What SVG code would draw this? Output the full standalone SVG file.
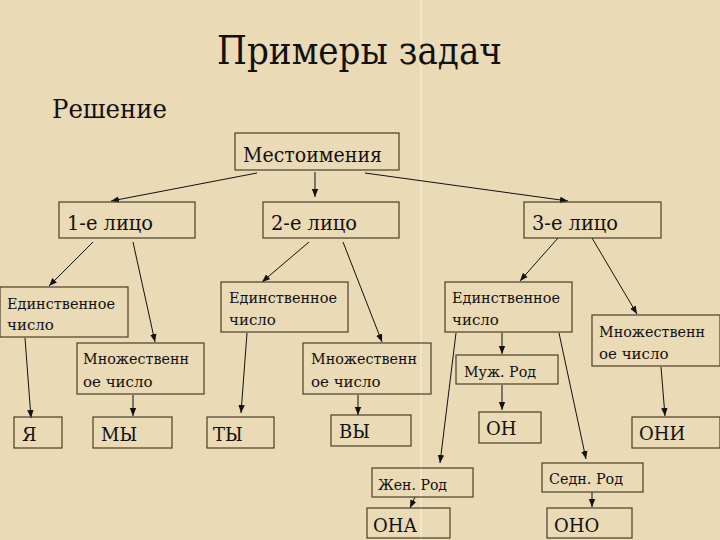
<svg xmlns="http://www.w3.org/2000/svg" width="720" height="540" viewBox="0 0 720 540">
<style>
.box{fill:none;stroke:#4a3e28;stroke-width:1.2}
text{font-family:'DejaVu Serif','Liberation Serif',serif;fill:#111}
.big{font-size:20px}
.mid{font-size:15px}
.pr{font-size:18px}
.c line{stroke:#111;stroke-width:1}
</style>
<defs>
<marker id="ah" viewBox="0 0 10 10" refX="10" refY="5" markerWidth="8" markerHeight="8" markerUnits="userSpaceOnUse" orient="auto">
<path d="M0,1 L10,5 L0,9 Z" fill="#111"/>
</marker>
</defs>
<rect width="720" height="540" fill="#eadab5"/>
<line x1="421" y1="0" x2="421" y2="540" stroke="#f6eedc" stroke-width="1.2"/>
<text x="217" y="64" font-size="40" textLength="285" lengthAdjust="spacingAndGlyphs">Примеры задач</text>
<text x="52" y="118" font-size="26" textLength="115" lengthAdjust="spacingAndGlyphs">Решение</text>

<g class="c" marker-end="url(#ah)">
<line x1="257" y1="173" x2="111" y2="201"/>
<line x1="315" y1="172" x2="315" y2="197"/>
<line x1="365" y1="173" x2="568" y2="201"/>
<line x1="93" y1="242" x2="49" y2="286"/>
<line x1="133" y1="242" x2="155" y2="342"/>
<line x1="309" y1="242" x2="262" y2="282"/>
<line x1="343" y1="242" x2="382" y2="342"/>
<line x1="558" y1="238" x2="520" y2="281"/>
<line x1="592" y1="238" x2="637" y2="314"/>
<line x1="25" y1="338" x2="31" y2="418"/>
<line x1="133" y1="395" x2="133" y2="416"/>
<line x1="247" y1="333" x2="241" y2="413"/>
<line x1="358" y1="395" x2="358" y2="415"/>
<line x1="502" y1="333" x2="502" y2="354"/>
<line x1="502" y1="385" x2="502" y2="410"/>
<line x1="456" y1="333" x2="440" y2="463"/>
<line x1="559" y1="333" x2="586" y2="459"/>
<line x1="661" y1="367" x2="665" y2="416"/>
<line x1="415" y1="497" x2="410" y2="508"/>
<line x1="592" y1="492" x2="592" y2="507"/>
</g>

<g id="n-mest"><rect class="box" x="235" y="133" width="164" height="37"/><text class="big" x="243" y="162" textLength="139" lengthAdjust="spacingAndGlyphs">Местоимения</text></g>
<g id="n-1"><rect class="box" x="59" y="202" width="136" height="36"/><text class="big" x="67" y="230" textLength="86" lengthAdjust="spacingAndGlyphs">1-е лицо</text></g>
<g id="n-2"><rect class="box" x="263" y="202" width="136" height="36"/><text class="big" x="271" y="230" textLength="86" lengthAdjust="spacingAndGlyphs">2-е лицо</text></g>
<g id="n-3"><rect class="box" x="524" y="202" width="137" height="36"/><text class="big" x="532" y="230" textLength="86" lengthAdjust="spacingAndGlyphs">3-е лицо</text></g>

<g id="n-ed1"><rect class="box" x="0" y="287" width="128" height="50"/><text class="mid" x="7" y="309" textLength="108" lengthAdjust="spacingAndGlyphs">Единственное</text><text class="mid" x="7" y="330">число</text></g>
<g id="n-mn1"><rect class="box" x="77" y="343" width="127" height="51"/><text class="mid" x="83" y="364" textLength="106" lengthAdjust="spacingAndGlyphs">Множественн</text><text class="mid" x="83" y="387">ое число</text></g>
<g id="n-ed2"><rect class="box" x="221" y="282" width="127" height="50"/><text class="mid" x="229" y="303" textLength="108" lengthAdjust="spacingAndGlyphs">Единственное</text><text class="mid" x="229" y="325">число</text></g>
<g id="n-mn2"><rect class="box" x="303" y="343" width="128" height="51"/><text class="mid" x="311" y="364" textLength="106" lengthAdjust="spacingAndGlyphs">Множественн</text><text class="mid" x="311" y="387">ое число</text></g>
<g id="n-ed3"><rect class="box" x="445" y="282" width="127" height="50"/><text class="mid" x="452" y="303" textLength="108" lengthAdjust="spacingAndGlyphs">Единственное</text><text class="mid" x="452" y="325">число</text></g>
<g id="n-mn3"><rect class="box" x="592" y="315" width="128" height="51"/><text class="mid" x="599" y="337" textLength="106" lengthAdjust="spacingAndGlyphs">Множественн</text><text class="mid" x="599" y="359">ое число</text></g>

<g id="n-ya"><rect class="box" x="14" y="417" width="48" height="31"/><text class="pr" x="22" y="441">Я</text></g>
<g id="n-my"><rect class="box" x="93" y="417" width="79" height="31"/><text class="pr" x="101" y="441">МЫ</text></g>
<g id="n-ty"><rect class="box" x="207" y="417" width="67" height="31"/><text class="pr" x="213" y="441">ТЫ</text></g>
<g id="n-vy"><rect class="box" x="331" y="415" width="80" height="31"/><text class="pr" x="339" y="438">ВЫ</text></g>
<g id="n-muzh"><rect class="box" x="456" y="355" width="102" height="29"/><text class="mid" x="464" y="377" textLength="72" lengthAdjust="spacingAndGlyphs">Муж. Род</text></g>
<g id="n-on"><rect class="box" x="479" y="412" width="62" height="31"/><text class="pr" x="486" y="435">ОН</text></g>
<g id="n-oni"><rect class="box" x="632" y="417" width="88" height="31"/><text class="pr" x="639" y="440">ОНИ</text></g>
<g id="n-zhen"><rect class="box" x="372" y="468" width="101" height="29"/><text class="mid" x="378" y="490" textLength="69" lengthAdjust="spacingAndGlyphs">Жен. Род</text></g>
<g id="n-sredn"><rect class="box" x="542" y="463" width="101" height="29"/><text class="mid" x="549" y="484" textLength="74" lengthAdjust="spacingAndGlyphs">Седн. Род</text></g>
<g id="n-ona"><rect class="box" x="367" y="508" width="83" height="30"/><text class="pr" x="373" y="532">ОНА</text></g>
<g id="n-ono"><rect class="box" x="547" y="508" width="85" height="30"/><text class="pr" x="554" y="532">ОНО</text></g>
</svg>
